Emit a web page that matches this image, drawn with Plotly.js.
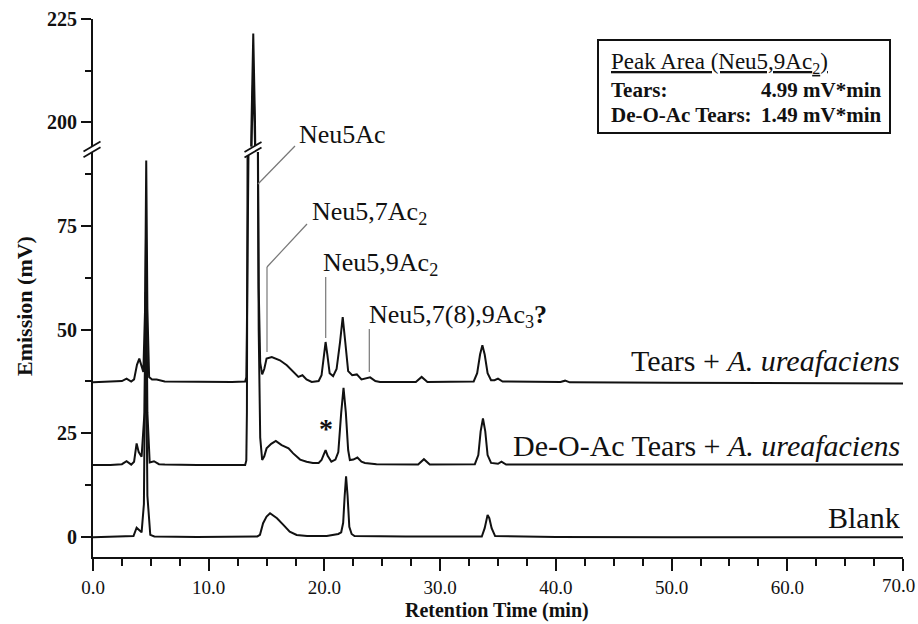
<!DOCTYPE html>
<html>
<head>
<meta charset="utf-8">
<script src="https://cdn.plot.ly/plotly-3.0.1.min.js"></script>
<style>html,body{margin:0;padding:0;background:#fff;}#chart{width:918px;height:624px;}</style>
</head>
<body>
<div id="chart"></div>
<script>
// ---------------- data ----------------
const tearsTime = [0,1.5,2.5,2.9,3.3,3.55,3.8,4.0,4.2,4.35,4.5,4.6,4.7,4.85,5.1,5.5,6.2,9.0,12.0,13.15,13.25,13.3,13.36,13.5,13.7,13.85,14.0,14.15,14.22,14.32,14.45,14.62,14.8,15.0,15.45,16.15,16.75,17.3,17.75,18.1,18.45,18.9,19.5,19.75,19.95,20.1,20.25,20.45,20.75,21.05,21.35,21.58,21.8,22.05,22.4,22.8,23.2,23.55,23.95,24.4,24.8,27.9,28.4,28.9,32.9,33.2,33.45,33.65,33.85,34.1,34.4,34.7,35.0,35.4,40.4,40.8,41.2,50,60,70];
const tearsMv   = [37.3,37.4,37.6,38.2,37.5,38.0,41.5,43.0,41.0,39.8,55,90.7,55,38.6,38.0,38.0,37.5,37.4,37.4,37.5,38.5,50,95,150,200,221.5,200,150,95,60,42,39.2,40.5,43.0,43.4,42.6,41.4,39.8,38.6,39.0,38.0,37.4,37.6,39.0,44.0,47.0,44.0,39.5,38.8,40.5,47,53,47,40,39.0,39.2,38.0,38.2,38.5,37.6,37.4,37.4,38.6,37.4,37.5,39.5,44.0,46.2,44.0,39.5,37.8,37.8,38.2,37.5,37.4,37.7,37.3,37.2,37.1,37.0];

const deoacTime = [0,1.5,2.5,2.9,3.3,3.55,3.77,3.95,4.2,4.45,4.58,4.7,4.9,5.27,5.7,6.2,9.0,12.0,13.15,13.25,13.3,13.36,13.5,13.7,13.85,14.0,14.15,14.22,14.32,14.45,14.62,14.8,15.0,15.4,15.8,16.3,16.9,17.3,17.9,18.46,19.0,19.5,19.75,19.92,20.1,20.28,20.6,20.95,21.2,21.45,21.65,21.85,22.05,22.2,22.5,22.85,23.2,23.5,24.5,28.1,28.6,29.1,33.0,33.3,33.5,33.7,33.9,34.1,34.4,35.0,35.3,35.7,45,55,70];
const deoacMv   = [17.4,17.4,17.6,18.3,17.5,18.2,22.6,20.5,19.4,30,72,30,18.0,18.3,17.6,17.5,17.4,17.4,17.4,18.5,30,95,150,195,212,195,150,95,50,24,18.6,19.5,21.4,22.5,23.2,22.2,21.4,20.2,18.7,18.2,17.9,17.9,18.6,19.8,21.0,19.6,18.2,18.7,20.5,30,36,30,21,18.6,18.7,19.2,18.2,17.9,17.6,17.5,18.8,17.5,17.6,19.8,25.5,28.6,25.5,19.8,17.9,17.7,18.2,17.5,17.5,17.4,17.5];

const blankTime = [0,2.5,3.5,3.77,4.0,4.2,4.4,4.55,4.7,4.95,5.3,9.0,14.2,14.43,14.7,15.0,15.3,15.9,16.45,17.0,17.6,18.5,20.2,21.2,21.45,21.62,21.75,21.87,22.0,22.15,22.35,22.6,27,33.6,33.85,34.0,34.1,34.25,34.45,34.75,40,50,60,70];
const blankMv   = [0,0.1,0.3,2.3,1.6,1.2,8,59,10,0.6,0.2,0.1,0.2,0.6,3.4,5.0,5.8,4.6,3.0,1.35,0.55,0.3,0.3,0.8,1.2,3.5,10,14.7,10,2.5,0.8,0.3,0.2,0.2,2.2,4.6,5.4,4.6,2.2,0.3,0.1,0,0,0];

const xTickVals   = [0,10,20,30,40,50,60,70];
const xTickText   = ['0.0','10.0','20.0','30.0','40.0','50.0','60.0','70.0'];
const yLowTicks   = [0,25,50,75];
const yHighTicks  = [200,225];
const seriesNames = ['Tears + <i>A. ureafaciens</i>','De-O-Ac Tears + <i>A. ureafaciens</i>','Blank'];
const peakLabels  = ['Neu5Ac','Neu5,7Ac<sub>2</sub>','Neu5,9Ac<sub>2</sub>','Neu5,7(8),9Ac<sub>3</sub><b>?</b>'];
const areaHeader  = 'Peak Area (Neu5,9Ac<sub>2</sub>)';
const areaRows    = ['Tears:','De-O-Ac Tears:'];
const areaValues  = ['4.99 mV*min','1.49 mV*min'];

// ---------------- layout helpers ----------------
const SERIF = 'Liberation Serif, Times New Roman, serif';
const L = 93, R = 903, T = 19, B = 557;
const px = x => (x - L) / (R - L);
const py = y => (B - y) / (B - T);

const lowTopPx = 152, highBotPx = 146.5;

const series = [[tearsTime, tearsMv],[deoacTime, deoacMv],[blankTime, blankMv]];
const traces = [];
series.forEach(s => {
  ['y','y2'].forEach(ya => {
    traces.push({x: s[0], y: s[1], xaxis: 'x', yaxis: ya, type: 'scatter', mode: 'lines',
      line: {color: '#111', width: 2}, hoverinfo: 'skip', showlegend: false});
  });
});

function line(x0,y0,x1,y1,color,w){
  return {type:'line', xref:'paper', yref:'paper', x0:px(x0), y0:py(y0), x1:px(x1), y1:py(y1),
    line:{color:color, width:w}, layer:'above'};
}
function breakMark(cx, cyTop, cyBot){
  const hw = 8.5, rise = 5;
  const p = (x,y) => px(x) + ',' + py(y);
  return [
    {type:'path', xref:'paper', yref:'paper', layer:'above',
     path:'M'+p(cx-hw,cyTop+rise)+' L'+p(cx+hw,cyTop-rise)+' L'+p(cx+hw,cyBot-rise)+' L'+p(cx-hw,cyBot+rise)+' Z',
     fillcolor:'#fff', line:{width:0}},
    line(cx-hw,cyTop+rise,cx+hw,cyTop-rise,'#111',1.8),
    line(cx-hw,cyBot+rise,cx+hw,cyBot-rise,'#111',1.8)
  ];
}

const LEAD = '#777';
const shapes = [].concat(
  breakMark(92, 146.5, 152.3),
  breakMark(253, 147, 152.5),
  [
    line(258,184,295,146,LEAD,1.2),
    line(267,352,267,267,LEAD,1.2),
    line(267,267,307,224,LEAD,1.2),
    line(325.7,338,325.7,277,LEAD,1.2),
    line(369.3,372,369.3,329,LEAD,1.2),
    {type:'rect', xref:'paper', yref:'paper', x0:px(598), x1:px(890), y0:py(133), y1:py(40),
     line:{color:'#111', width:2}, fillcolor:'rgba(0,0,0,0)', layer:'above'}
  ]
);

function ann(text, x, y, xanchor, size, opts){
  return Object.assign({text:text, xref:'paper', yref:'paper', x:px(x), y:py(y), xanchor:xanchor, yanchor:'middle',
    showarrow:false, borderpad:0, font:{family:SERIF, size:size, color:'#111'}}, opts||{});
}
const annotations = [
  ann(peakLabels[0], 298, 134, 'left', 26),
  ann(peakLabels[1], 311, 213, 'left', 26),
  ann(peakLabels[2], 322, 264, 'left', 26),
  ann(peakLabels[3], 368, 316, 'left', 26),
  ann('<b>*</b>', 326, 428, 'center', 28),
  ann(seriesNames[0], 901, 361, 'right', 30),
  ann(seriesNames[1], 901, 445, 'right', 30),
  ann(seriesNames[2], 901, 517, 'right', 30),
  ann('<u>' + areaHeader + '</u>', 610, 63, 'left', 23),
  ann('<b>' + areaRows[0] + '</b>', 610, 90, 'left', 21),
  ann('<b>' + areaValues[0] + '</b>', 882, 90, 'right', 21),
  ann('<b>' + areaRows[1] + '</b>', 610, 115, 'left', 21),
  ann('<b>' + areaValues[1] + '</b>', 882, 115, 'right', 21),
  ann('<b>Emission (mV)</b>', 24, 306, 'center', 22, {textangle:-90}),
  ann('<b>Retention Time (min)</b>', 497, 610, 'center', 20),
  // last x tick label, nudged inward so it stays inside the page as in the reference
  ann(xTickText[xTickText.length - 1], 916, 585, 'right', 19)
];

const yCommon = {showline:true, linecolor:'#111', linewidth:2, ticks:'outside', ticklen:10, tickwidth:2, tickcolor:'#111',
  showgrid:false, zeroline:false, fixedrange:true,
  tickfont:{family:SERIF, size:20, color:'#111', weight:'bold'},
  minor:{ticks:'outside', ticklen:6, tickwidth:2, tickcolor:'#111', dtick:12.5, tick0:0, showgrid:false}};

const lowBottom = -(B - 537.3) / 4.155;
const lowTop = (537.3 - lowTopPx) / 4.155;
const highBottom = 200 - (highBotPx - 122.3) / 4.132;

const xLabelText = xTickText.map((t, i) => i === xTickText.length - 1 ? '' : t);

const layout = {
  width:918, height:624,
  margin:{l:L, r:918-R, t:T, b:624-B},
  paper_bgcolor:'#fff', plot_bgcolor:'rgba(0,0,0,0)',
  showlegend:false,
  xaxis:{range:[0,70], anchor:'y', showline:true, linecolor:'#111', linewidth:2,
    ticks:'outside', ticklen:12, tickwidth:2, tickcolor:'#111',
    tickmode:'array', tickvals:xTickVals, ticktext:xLabelText,
    tickfont:{family:SERIF, size:19, color:'#111'},
    minor:{ticks:'outside', ticklen:7, tickwidth:2, tickcolor:'#111', dtick:2.5, tick0:0, showgrid:false},
    showgrid:false, zeroline:false, fixedrange:true},
  yaxis:Object.assign({}, yCommon, {domain:[0, py(lowTopPx)], range:[lowBottom, lowTop], tickmode:'array', tickvals:yLowTicks}),
  yaxis2:Object.assign({}, yCommon, {domain:[py(highBotPx), 1], range:[highBottom, 225], anchor:'x', tickmode:'array', tickvals:yHighTicks}),
  shapes:shapes,
  annotations:annotations
};

Plotly.newPlot('chart', traces, layout, {staticPlot:true, displayModeBar:false});
</script>
</body>
</html>
